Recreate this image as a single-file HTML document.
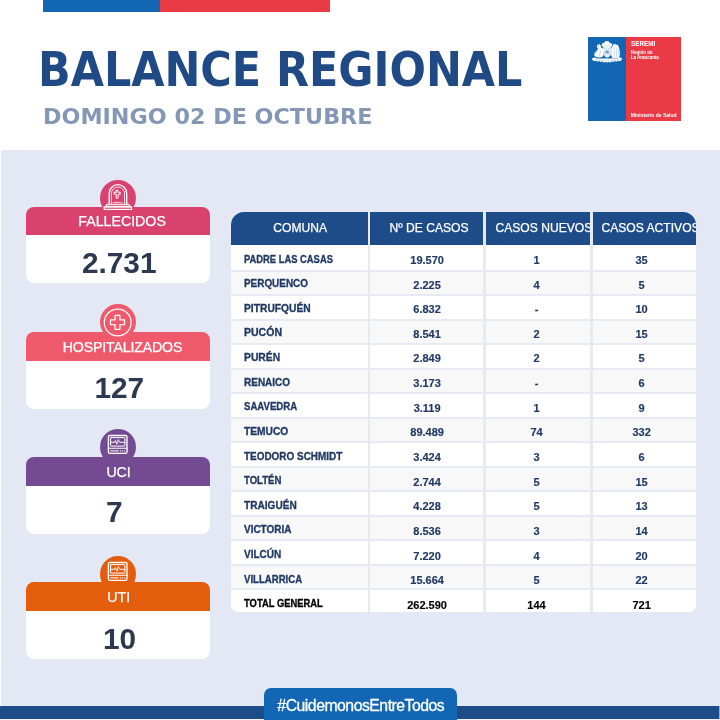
<!DOCTYPE html><html lang="es"><head><meta charset="utf-8"><title>Balance Regional</title><style>
*{margin:0;padding:0;box-sizing:border-box}
html,body{width:720px;height:720px;overflow:hidden;background:#fff}
body{position:relative;font-family:"Liberation Sans",sans-serif}
#wrap{position:absolute;left:0;top:0;width:720px;height:720px;will-change:transform}
.a{position:absolute}
.t{position:absolute;white-space:nowrap}
.panel{left:1px;top:149.5px;width:719px;height:571px;background:#e4e8f5}
.circ{width:36px;height:36px;border-radius:50%}
</style></head><body><div id="wrap">
<div class="a" style="left:42.7px;top:0;width:117.6px;height:11.7px;background:#1266b3"></div>
<div class="a" style="left:160.3px;top:0;width:169.7px;height:11.7px;background:#ea3a46"></div>
<div class="t" style="left:37.80px;top:44.63px;font-size:48.5px;line-height:48.5px;color:#1f4a86;font-weight:bold;transform:scaleX(0.983);transform-origin:0 0;font-family:'DejaVu Sans Condensed','Liberation Sans',sans-serif;">BALANCE REGIONAL</div>
<div class="t" style="left:43.20px;top:105.84px;font-size:22.0px;line-height:22.0px;color:#8497b6;font-weight:bold;transform:scaleX(1.012);transform-origin:0 0;font-family:'DejaVu Sans','Liberation Sans',sans-serif;">DOMINGO 02 DE OCTUBRE</div>
<div class="a" style="left:588px;top:37.1px;width:38.2px;height:83.6px;background:#1266b3"></div>
<div class="a" style="left:626px;top:37.1px;width:55px;height:83.6px;background:#ea3a46"></div>

<div class="t" style="left:630.70px;top:41.13px;font-size:6.5px;line-height:6.5px;color:#fff;font-weight:bold;transform:scaleX(0.97);transform-origin:0 0;">SEREMI</div>
<div class="t" style="left:630.70px;top:51.14px;font-size:4.5px;line-height:4.5px;color:#fff;font-weight:bold;transform:none;transform-origin:0 0;">Región de</div>
<div class="t" style="left:630.70px;top:55.94px;font-size:4.5px;line-height:4.5px;color:#fff;font-weight:bold;transform:none;transform-origin:0 0;">La Araucanía</div>
<div class="t" style="left:630.70px;top:113.09px;font-size:5.0px;line-height:5.0px;color:#fff;font-weight:bold;transform:none;transform-origin:0 0;">Ministerio de Salud</div>
<div class="a panel"></div>
<div class="a circ" style="left:99.8px;top:179.7px;background:#d9426f"></div>
<div class="a" style="left:26px;top:206.9px;width:183.5px;height:28.5px;border-radius:8px 8px 0 0;background:#d9426f"></div>
<div class="a" style="left:26px;top:235.4px;width:183.5px;height:48.1px;border-radius:0 0 8px 8px;background:#fff"></div>
<div class="t" style="left:122.10px;top:213.66px;font-size:14.2px;line-height:14.2px;color:#fff;font-weight:normal;transform:translateX(-50%);transform-origin:50% 0;-webkit-text-stroke:.25px #fff;">FALLECIDOS</div>
<div class="t" style="left:119.20px;top:247.78px;font-size:29.8px;line-height:29.8px;color:#2c3950;font-weight:bold;transform:translateX(-50%);transform-origin:50% 0;">2.731</div>
<div class="a circ" style="left:99.8px;top:304.2px;background:#ee5a6b"></div>
<div class="a" style="left:26px;top:332.0px;width:183.5px;height:28.5px;border-radius:8px 8px 0 0;background:#ee5a6b"></div>
<div class="a" style="left:26px;top:360.5px;width:183.5px;height:48.1px;border-radius:0 0 8px 8px;background:#fff"></div>
<div class="t" style="left:122.50px;top:339.66px;font-size:14.2px;line-height:14.2px;color:#fff;font-weight:normal;transform:translateX(-50%);transform-origin:50% 0;-webkit-text-stroke:.25px #fff;letter-spacing:-.17px;">HOSPITALIZADOS</div>
<div class="t" style="left:119.30px;top:372.53px;font-size:29.8px;line-height:29.8px;color:#2c3950;font-weight:bold;transform:translateX(-50%);transform-origin:50% 0;">127</div>
<div class="a circ" style="left:99.8px;top:428.8px;background:#744b93"></div>
<div class="a" style="left:26px;top:457.1px;width:183.5px;height:28.5px;border-radius:8px 8px 0 0;background:#744b93"></div>
<div class="a" style="left:26px;top:485.6px;width:183.5px;height:48.1px;border-radius:0 0 8px 8px;background:#fff"></div>
<div class="t" style="left:118.60px;top:464.71px;font-size:14.2px;line-height:14.2px;color:#fff;font-weight:normal;transform:translateX(-50%);transform-origin:50% 0;-webkit-text-stroke:.25px #fff;">UCI</div>
<div class="t" style="left:114.40px;top:496.88px;font-size:29.8px;line-height:29.8px;color:#2c3950;font-weight:bold;transform:translateX(-50%);transform-origin:50% 0;">7</div>
<div class="a circ" style="left:99.8px;top:555.8px;background:#e35d0c"></div>
<div class="a" style="left:26px;top:582.2px;width:183.5px;height:28.5px;border-radius:8px 8px 0 0;background:#e35d0c"></div>
<div class="a" style="left:26px;top:610.7px;width:183.5px;height:48.1px;border-radius:0 0 8px 8px;background:#fff"></div>
<div class="t" style="left:118.75px;top:590.06px;font-size:14.2px;line-height:14.2px;color:#fff;font-weight:normal;transform:translateX(-50%);transform-origin:50% 0;-webkit-text-stroke:.25px #fff;">UTI</div>
<div class="t" style="left:119.60px;top:623.98px;font-size:29.8px;line-height:29.8px;color:#2c3950;font-weight:bold;transform:translateX(-50%);transform-origin:50% 0;">10</div>
<div class="a" style="left:230.5px;top:211.6px;width:465.8px;height:400.2px;border-radius:13px 13px 7px 7px;overflow:hidden;background:#e7eaf6">
<div class="a" style="left:0.0px;top:0;width:137.1px;height:33.0px;background:#1e4c89"></div>
<div class="a" style="left:139.7px;top:0;width:112.8px;height:33.0px;background:#1e4c89"></div>
<div class="a" style="left:255.5px;top:0;width:104.0px;height:33.0px;background:#1e4c89"></div>
<div class="a" style="left:362.5px;top:0;width:103.3px;height:33.0px;background:#1e4c89"></div>
<div class="a" style="left:0.0px;top:33.70px;width:137.1px;height:24.70px;background:#ffffff"></div>
<div class="a" style="left:139.7px;top:33.70px;width:112.8px;height:24.70px;background:#ffffff"></div>
<div class="a" style="left:255.5px;top:33.70px;width:104.0px;height:24.70px;background:#ffffff"></div>
<div class="a" style="left:362.5px;top:33.70px;width:103.3px;height:24.70px;background:#ffffff"></div>
<div class="a" style="left:0.0px;top:60.20px;width:137.1px;height:22.70px;background:#f8f8f9"></div>
<div class="a" style="left:139.7px;top:60.20px;width:112.8px;height:22.70px;background:#f8f8f9"></div>
<div class="a" style="left:255.5px;top:60.20px;width:104.0px;height:22.70px;background:#f8f8f9"></div>
<div class="a" style="left:362.5px;top:60.20px;width:103.3px;height:22.70px;background:#f8f8f9"></div>
<div class="a" style="left:0.0px;top:84.70px;width:137.1px;height:22.70px;background:#ffffff"></div>
<div class="a" style="left:139.7px;top:84.70px;width:112.8px;height:22.70px;background:#ffffff"></div>
<div class="a" style="left:255.5px;top:84.70px;width:104.0px;height:22.70px;background:#ffffff"></div>
<div class="a" style="left:362.5px;top:84.70px;width:103.3px;height:22.70px;background:#ffffff"></div>
<div class="a" style="left:0.0px;top:109.20px;width:137.1px;height:22.70px;background:#f8f8f9"></div>
<div class="a" style="left:139.7px;top:109.20px;width:112.8px;height:22.70px;background:#f8f8f9"></div>
<div class="a" style="left:255.5px;top:109.20px;width:104.0px;height:22.70px;background:#f8f8f9"></div>
<div class="a" style="left:362.5px;top:109.20px;width:103.3px;height:22.70px;background:#f8f8f9"></div>
<div class="a" style="left:0.0px;top:133.70px;width:137.1px;height:22.70px;background:#ffffff"></div>
<div class="a" style="left:139.7px;top:133.70px;width:112.8px;height:22.70px;background:#ffffff"></div>
<div class="a" style="left:255.5px;top:133.70px;width:104.0px;height:22.70px;background:#ffffff"></div>
<div class="a" style="left:362.5px;top:133.70px;width:103.3px;height:22.70px;background:#ffffff"></div>
<div class="a" style="left:0.0px;top:158.20px;width:137.1px;height:22.70px;background:#f8f8f9"></div>
<div class="a" style="left:139.7px;top:158.20px;width:112.8px;height:22.70px;background:#f8f8f9"></div>
<div class="a" style="left:255.5px;top:158.20px;width:104.0px;height:22.70px;background:#f8f8f9"></div>
<div class="a" style="left:362.5px;top:158.20px;width:103.3px;height:22.70px;background:#f8f8f9"></div>
<div class="a" style="left:0.0px;top:182.70px;width:137.1px;height:22.70px;background:#ffffff"></div>
<div class="a" style="left:139.7px;top:182.70px;width:112.8px;height:22.70px;background:#ffffff"></div>
<div class="a" style="left:255.5px;top:182.70px;width:104.0px;height:22.70px;background:#ffffff"></div>
<div class="a" style="left:362.5px;top:182.70px;width:103.3px;height:22.70px;background:#ffffff"></div>
<div class="a" style="left:0.0px;top:207.20px;width:137.1px;height:22.70px;background:#f8f8f9"></div>
<div class="a" style="left:139.7px;top:207.20px;width:112.8px;height:22.70px;background:#f8f8f9"></div>
<div class="a" style="left:255.5px;top:207.20px;width:104.0px;height:22.70px;background:#f8f8f9"></div>
<div class="a" style="left:362.5px;top:207.20px;width:103.3px;height:22.70px;background:#f8f8f9"></div>
<div class="a" style="left:0.0px;top:231.70px;width:137.1px;height:22.70px;background:#ffffff"></div>
<div class="a" style="left:139.7px;top:231.70px;width:112.8px;height:22.70px;background:#ffffff"></div>
<div class="a" style="left:255.5px;top:231.70px;width:104.0px;height:22.70px;background:#ffffff"></div>
<div class="a" style="left:362.5px;top:231.70px;width:103.3px;height:22.70px;background:#ffffff"></div>
<div class="a" style="left:0.0px;top:256.20px;width:137.1px;height:22.70px;background:#f8f8f9"></div>
<div class="a" style="left:139.7px;top:256.20px;width:112.8px;height:22.70px;background:#f8f8f9"></div>
<div class="a" style="left:255.5px;top:256.20px;width:104.0px;height:22.70px;background:#f8f8f9"></div>
<div class="a" style="left:362.5px;top:256.20px;width:103.3px;height:22.70px;background:#f8f8f9"></div>
<div class="a" style="left:0.0px;top:280.70px;width:137.1px;height:22.70px;background:#ffffff"></div>
<div class="a" style="left:139.7px;top:280.70px;width:112.8px;height:22.70px;background:#ffffff"></div>
<div class="a" style="left:255.5px;top:280.70px;width:104.0px;height:22.70px;background:#ffffff"></div>
<div class="a" style="left:362.5px;top:280.70px;width:103.3px;height:22.70px;background:#ffffff"></div>
<div class="a" style="left:0.0px;top:305.20px;width:137.1px;height:22.70px;background:#f8f8f9"></div>
<div class="a" style="left:139.7px;top:305.20px;width:112.8px;height:22.70px;background:#f8f8f9"></div>
<div class="a" style="left:255.5px;top:305.20px;width:104.0px;height:22.70px;background:#f8f8f9"></div>
<div class="a" style="left:362.5px;top:305.20px;width:103.3px;height:22.70px;background:#f8f8f9"></div>
<div class="a" style="left:0.0px;top:329.70px;width:137.1px;height:22.70px;background:#ffffff"></div>
<div class="a" style="left:139.7px;top:329.70px;width:112.8px;height:22.70px;background:#ffffff"></div>
<div class="a" style="left:255.5px;top:329.70px;width:104.0px;height:22.70px;background:#ffffff"></div>
<div class="a" style="left:362.5px;top:329.70px;width:103.3px;height:22.70px;background:#ffffff"></div>
<div class="a" style="left:0.0px;top:354.20px;width:137.1px;height:22.70px;background:#f8f8f9"></div>
<div class="a" style="left:139.7px;top:354.20px;width:112.8px;height:22.70px;background:#f8f8f9"></div>
<div class="a" style="left:255.5px;top:354.20px;width:104.0px;height:22.70px;background:#f8f8f9"></div>
<div class="a" style="left:362.5px;top:354.20px;width:103.3px;height:22.70px;background:#f8f8f9"></div>
<div class="a" style="left:0.0px;top:378.70px;width:137.1px;height:21.50px;background:#ffffff"></div>
<div class="a" style="left:139.7px;top:378.70px;width:112.8px;height:21.50px;background:#ffffff"></div>
<div class="a" style="left:255.5px;top:378.70px;width:104.0px;height:21.50px;background:#ffffff"></div>
<div class="a" style="left:362.5px;top:378.70px;width:103.3px;height:21.50px;background:#ffffff"></div>
<div class="t" style="left:69.70px;top:10.32px;font-size:12.1px;line-height:12.1px;color:#fff;font-weight:normal;transform:translateX(-50%);transform-origin:50% 0;-webkit-text-stroke:.25px #fff;">COMUNA</div>
<div class="t" style="left:198.50px;top:10.32px;font-size:12.1px;line-height:12.1px;color:#fff;font-weight:normal;transform:translateX(-50%);transform-origin:50% 0;-webkit-text-stroke:.25px #fff;">Nº DE CASOS</div>
<div class="a" style="left:255.5px;top:0;width:103.6px;height:33px;overflow:hidden"><div class="t" style="left:9.50px;top:10.32px;font-size:12.1px;line-height:12.1px;color:#fff;font-weight:normal;transform:none;transform-origin:0 0;-webkit-text-stroke:.25px #fff;">CASOS NUEVOS</div></div>
<div class="a" style="left:362.5px;top:0;width:103.3px;height:33px;overflow:hidden"><div class="t" style="left:8.50px;top:10.32px;font-size:12.1px;line-height:12.1px;color:#fff;font-weight:normal;transform:none;transform-origin:0 0;-webkit-text-stroke:.25px #fff;">CASOS ACTIVOS</div></div>
<div class="t" style="left:13.00px;top:41.97px;font-size:10.6px;line-height:10.6px;color:#1f3864;font-weight:bold;transform:scaleX(0.885);transform-origin:0 0;-webkit-text-stroke:.3px #1f3864;">PADRE LAS CASAS</div>
<div class="t" style="left:196.60px;top:43.37px;font-size:11px;line-height:11px;color:#1f3864;font-weight:bold;transform:translateX(-50%);transform-origin:50% 0;-webkit-text-stroke:.15px #1f3864;">19.570</div>
<div class="t" style="left:306.00px;top:43.37px;font-size:11px;line-height:11px;color:#1f3864;font-weight:bold;transform:translateX(-50%);transform-origin:50% 0;-webkit-text-stroke:.15px #1f3864;">1</div>
<div class="t" style="left:411.10px;top:43.37px;font-size:11px;line-height:11px;color:#1f3864;font-weight:bold;transform:translateX(-50%);transform-origin:50% 0;-webkit-text-stroke:.15px #1f3864;">35</div>
<div class="t" style="left:13.00px;top:66.60px;font-size:10.6px;line-height:10.6px;color:#1f3864;font-weight:bold;transform:scaleX(0.936);transform-origin:0 0;-webkit-text-stroke:.3px #1f3864;">PERQUENCO</div>
<div class="t" style="left:196.60px;top:68.00px;font-size:11px;line-height:11px;color:#1f3864;font-weight:bold;transform:translateX(-50%);transform-origin:50% 0;-webkit-text-stroke:.15px #1f3864;">2.225</div>
<div class="t" style="left:306.00px;top:68.00px;font-size:11px;line-height:11px;color:#1f3864;font-weight:bold;transform:translateX(-50%);transform-origin:50% 0;-webkit-text-stroke:.15px #1f3864;">4</div>
<div class="t" style="left:411.10px;top:68.00px;font-size:11px;line-height:11px;color:#1f3864;font-weight:bold;transform:translateX(-50%);transform-origin:50% 0;-webkit-text-stroke:.15px #1f3864;">5</div>
<div class="t" style="left:13.00px;top:91.23px;font-size:10.6px;line-height:10.6px;color:#1f3864;font-weight:bold;transform:scaleX(0.969);transform-origin:0 0;-webkit-text-stroke:.3px #1f3864;">PITRUFQUÉN</div>
<div class="t" style="left:196.60px;top:92.63px;font-size:11px;line-height:11px;color:#1f3864;font-weight:bold;transform:translateX(-50%);transform-origin:50% 0;-webkit-text-stroke:.15px #1f3864;">6.832</div>
<div class="t" style="left:306.00px;top:92.63px;font-size:11px;line-height:11px;color:#1f3864;font-weight:bold;transform:translateX(-50%);transform-origin:50% 0;-webkit-text-stroke:.15px #1f3864;">-</div>
<div class="t" style="left:411.10px;top:92.63px;font-size:11px;line-height:11px;color:#1f3864;font-weight:bold;transform:translateX(-50%);transform-origin:50% 0;-webkit-text-stroke:.15px #1f3864;">10</div>
<div class="t" style="left:13.00px;top:115.86px;font-size:10.6px;line-height:10.6px;color:#1f3864;font-weight:bold;transform:scaleX(0.993);transform-origin:0 0;-webkit-text-stroke:.3px #1f3864;">PUCÓN</div>
<div class="t" style="left:196.60px;top:117.26px;font-size:11px;line-height:11px;color:#1f3864;font-weight:bold;transform:translateX(-50%);transform-origin:50% 0;-webkit-text-stroke:.15px #1f3864;">8.541</div>
<div class="t" style="left:306.00px;top:117.26px;font-size:11px;line-height:11px;color:#1f3864;font-weight:bold;transform:translateX(-50%);transform-origin:50% 0;-webkit-text-stroke:.15px #1f3864;">2</div>
<div class="t" style="left:411.10px;top:117.26px;font-size:11px;line-height:11px;color:#1f3864;font-weight:bold;transform:translateX(-50%);transform-origin:50% 0;-webkit-text-stroke:.15px #1f3864;">15</div>
<div class="t" style="left:13.00px;top:140.49px;font-size:10.6px;line-height:10.6px;color:#1f3864;font-weight:bold;transform:scaleX(0.974);transform-origin:0 0;-webkit-text-stroke:.3px #1f3864;">PURÉN</div>
<div class="t" style="left:196.60px;top:141.89px;font-size:11px;line-height:11px;color:#1f3864;font-weight:bold;transform:translateX(-50%);transform-origin:50% 0;-webkit-text-stroke:.15px #1f3864;">2.849</div>
<div class="t" style="left:306.00px;top:141.89px;font-size:11px;line-height:11px;color:#1f3864;font-weight:bold;transform:translateX(-50%);transform-origin:50% 0;-webkit-text-stroke:.15px #1f3864;">2</div>
<div class="t" style="left:411.10px;top:141.89px;font-size:11px;line-height:11px;color:#1f3864;font-weight:bold;transform:translateX(-50%);transform-origin:50% 0;-webkit-text-stroke:.15px #1f3864;">5</div>
<div class="t" style="left:13.00px;top:165.12px;font-size:10.6px;line-height:10.6px;color:#1f3864;font-weight:bold;transform:scaleX(0.944);transform-origin:0 0;-webkit-text-stroke:.3px #1f3864;">RENAICO</div>
<div class="t" style="left:196.60px;top:166.52px;font-size:11px;line-height:11px;color:#1f3864;font-weight:bold;transform:translateX(-50%);transform-origin:50% 0;-webkit-text-stroke:.15px #1f3864;">3.173</div>
<div class="t" style="left:306.00px;top:166.52px;font-size:11px;line-height:11px;color:#1f3864;font-weight:bold;transform:translateX(-50%);transform-origin:50% 0;-webkit-text-stroke:.15px #1f3864;">-</div>
<div class="t" style="left:411.10px;top:166.52px;font-size:11px;line-height:11px;color:#1f3864;font-weight:bold;transform:translateX(-50%);transform-origin:50% 0;-webkit-text-stroke:.15px #1f3864;">6</div>
<div class="t" style="left:13.60px;top:189.75px;font-size:10.6px;line-height:10.6px;color:#1f3864;font-weight:bold;transform:scaleX(0.905);transform-origin:0 0;-webkit-text-stroke:.3px #1f3864;">SAAVEDRA</div>
<div class="t" style="left:196.60px;top:191.15px;font-size:11px;line-height:11px;color:#1f3864;font-weight:bold;transform:translateX(-50%);transform-origin:50% 0;-webkit-text-stroke:.15px #1f3864;">3.119</div>
<div class="t" style="left:306.00px;top:191.15px;font-size:11px;line-height:11px;color:#1f3864;font-weight:bold;transform:translateX(-50%);transform-origin:50% 0;-webkit-text-stroke:.15px #1f3864;">1</div>
<div class="t" style="left:411.10px;top:191.15px;font-size:11px;line-height:11px;color:#1f3864;font-weight:bold;transform:translateX(-50%);transform-origin:50% 0;-webkit-text-stroke:.15px #1f3864;">9</div>
<div class="t" style="left:13.70px;top:214.38px;font-size:10.6px;line-height:10.6px;color:#1f3864;font-weight:bold;transform:scaleX(0.965);transform-origin:0 0;-webkit-text-stroke:.3px #1f3864;">TEMUCO</div>
<div class="t" style="left:196.60px;top:215.78px;font-size:11px;line-height:11px;color:#1f3864;font-weight:bold;transform:translateX(-50%);transform-origin:50% 0;-webkit-text-stroke:.15px #1f3864;">89.489</div>
<div class="t" style="left:306.00px;top:215.78px;font-size:11px;line-height:11px;color:#1f3864;font-weight:bold;transform:translateX(-50%);transform-origin:50% 0;-webkit-text-stroke:.15px #1f3864;">74</div>
<div class="t" style="left:411.10px;top:215.78px;font-size:11px;line-height:11px;color:#1f3864;font-weight:bold;transform:translateX(-50%);transform-origin:50% 0;-webkit-text-stroke:.15px #1f3864;">332</div>
<div class="t" style="left:13.70px;top:239.01px;font-size:10.6px;line-height:10.6px;color:#1f3864;font-weight:bold;transform:scaleX(0.938);transform-origin:0 0;-webkit-text-stroke:.3px #1f3864;">TEODORO SCHMIDT</div>
<div class="t" style="left:196.60px;top:240.41px;font-size:11px;line-height:11px;color:#1f3864;font-weight:bold;transform:translateX(-50%);transform-origin:50% 0;-webkit-text-stroke:.15px #1f3864;">3.424</div>
<div class="t" style="left:306.00px;top:240.41px;font-size:11px;line-height:11px;color:#1f3864;font-weight:bold;transform:translateX(-50%);transform-origin:50% 0;-webkit-text-stroke:.15px #1f3864;">3</div>
<div class="t" style="left:411.10px;top:240.41px;font-size:11px;line-height:11px;color:#1f3864;font-weight:bold;transform:translateX(-50%);transform-origin:50% 0;-webkit-text-stroke:.15px #1f3864;">6</div>
<div class="t" style="left:13.70px;top:263.64px;font-size:10.6px;line-height:10.6px;color:#1f3864;font-weight:bold;transform:scaleX(0.902);transform-origin:0 0;-webkit-text-stroke:.3px #1f3864;">TOLTÉN</div>
<div class="t" style="left:196.60px;top:265.04px;font-size:11px;line-height:11px;color:#1f3864;font-weight:bold;transform:translateX(-50%);transform-origin:50% 0;-webkit-text-stroke:.15px #1f3864;">2.744</div>
<div class="t" style="left:306.00px;top:265.04px;font-size:11px;line-height:11px;color:#1f3864;font-weight:bold;transform:translateX(-50%);transform-origin:50% 0;-webkit-text-stroke:.15px #1f3864;">5</div>
<div class="t" style="left:411.10px;top:265.04px;font-size:11px;line-height:11px;color:#1f3864;font-weight:bold;transform:translateX(-50%);transform-origin:50% 0;-webkit-text-stroke:.15px #1f3864;">15</div>
<div class="t" style="left:13.70px;top:288.27px;font-size:10.6px;line-height:10.6px;color:#1f3864;font-weight:bold;transform:scaleX(0.953);transform-origin:0 0;-webkit-text-stroke:.3px #1f3864;">TRAIGUÉN</div>
<div class="t" style="left:196.60px;top:289.67px;font-size:11px;line-height:11px;color:#1f3864;font-weight:bold;transform:translateX(-50%);transform-origin:50% 0;-webkit-text-stroke:.15px #1f3864;">4.228</div>
<div class="t" style="left:306.00px;top:289.67px;font-size:11px;line-height:11px;color:#1f3864;font-weight:bold;transform:translateX(-50%);transform-origin:50% 0;-webkit-text-stroke:.15px #1f3864;">5</div>
<div class="t" style="left:411.10px;top:289.67px;font-size:11px;line-height:11px;color:#1f3864;font-weight:bold;transform:translateX(-50%);transform-origin:50% 0;-webkit-text-stroke:.15px #1f3864;">13</div>
<div class="t" style="left:13.70px;top:312.90px;font-size:10.6px;line-height:10.6px;color:#1f3864;font-weight:bold;transform:scaleX(0.941);transform-origin:0 0;-webkit-text-stroke:.3px #1f3864;">VICTORIA</div>
<div class="t" style="left:196.60px;top:314.30px;font-size:11px;line-height:11px;color:#1f3864;font-weight:bold;transform:translateX(-50%);transform-origin:50% 0;-webkit-text-stroke:.15px #1f3864;">8.536</div>
<div class="t" style="left:306.00px;top:314.30px;font-size:11px;line-height:11px;color:#1f3864;font-weight:bold;transform:translateX(-50%);transform-origin:50% 0;-webkit-text-stroke:.15px #1f3864;">3</div>
<div class="t" style="left:411.10px;top:314.30px;font-size:11px;line-height:11px;color:#1f3864;font-weight:bold;transform:translateX(-50%);transform-origin:50% 0;-webkit-text-stroke:.15px #1f3864;">14</div>
<div class="t" style="left:13.70px;top:337.53px;font-size:10.6px;line-height:10.6px;color:#1f3864;font-weight:bold;transform:scaleX(0.947);transform-origin:0 0;-webkit-text-stroke:.3px #1f3864;">VILCÚN</div>
<div class="t" style="left:196.60px;top:338.93px;font-size:11px;line-height:11px;color:#1f3864;font-weight:bold;transform:translateX(-50%);transform-origin:50% 0;-webkit-text-stroke:.15px #1f3864;">7.220</div>
<div class="t" style="left:306.00px;top:338.93px;font-size:11px;line-height:11px;color:#1f3864;font-weight:bold;transform:translateX(-50%);transform-origin:50% 0;-webkit-text-stroke:.15px #1f3864;">4</div>
<div class="t" style="left:411.10px;top:338.93px;font-size:11px;line-height:11px;color:#1f3864;font-weight:bold;transform:translateX(-50%);transform-origin:50% 0;-webkit-text-stroke:.15px #1f3864;">20</div>
<div class="t" style="left:13.70px;top:362.16px;font-size:10.6px;line-height:10.6px;color:#1f3864;font-weight:bold;transform:scaleX(0.906);transform-origin:0 0;-webkit-text-stroke:.3px #1f3864;">VILLARRICA</div>
<div class="t" style="left:196.60px;top:363.56px;font-size:11px;line-height:11px;color:#1f3864;font-weight:bold;transform:translateX(-50%);transform-origin:50% 0;-webkit-text-stroke:.15px #1f3864;">15.664</div>
<div class="t" style="left:306.00px;top:363.56px;font-size:11px;line-height:11px;color:#1f3864;font-weight:bold;transform:translateX(-50%);transform-origin:50% 0;-webkit-text-stroke:.15px #1f3864;">5</div>
<div class="t" style="left:411.10px;top:363.56px;font-size:11px;line-height:11px;color:#1f3864;font-weight:bold;transform:translateX(-50%);transform-origin:50% 0;-webkit-text-stroke:.15px #1f3864;">22</div>
<div class="t" style="left:13.70px;top:386.79px;font-size:10.6px;line-height:10.6px;color:#000;font-weight:bold;transform:scaleX(0.887);transform-origin:0 0;-webkit-text-stroke:.3px #000;">TOTAL GENERAL</div>
<div class="t" style="left:196.60px;top:388.19px;font-size:11px;line-height:11px;color:#000;font-weight:bold;transform:translateX(-50%);transform-origin:50% 0;-webkit-text-stroke:.15px #000;">262.590</div>
<div class="t" style="left:306.00px;top:388.19px;font-size:11px;line-height:11px;color:#000;font-weight:bold;transform:translateX(-50%);transform-origin:50% 0;-webkit-text-stroke:.15px #000;">144</div>
<div class="t" style="left:411.10px;top:388.19px;font-size:11px;line-height:11px;color:#000;font-weight:bold;transform:translateX(-50%);transform-origin:50% 0;-webkit-text-stroke:.15px #000;">721</div>
</div>
<div class="a" style="left:0;top:705.7px;width:720px;height:13.2px;background:#8fb0e2"></div>
<div class="a" style="left:0;top:718.9px;width:720px;height:2px;background:#eef1fa"></div>
<div class="a" style="left:0;top:705.7px;width:718.8px;height:13.2px;background:#1e4c89"></div>
<div class="a" style="left:264.4px;top:687.8px;width:192.8px;height:40px;border-radius:7px;background:#1266b3"></div>
<div class="t" style="left:360.80px;top:698.06px;font-size:15.8px;line-height:15.8px;color:#fff;font-weight:normal;transform:translateX(-50%);transform-origin:50% 0;letter-spacing:-.5px;-webkit-text-stroke:.3px #fff;">#CuidemonosEntreTodos</div>
<svg class="a" style="left:0;top:0" width="720" height="720" viewBox="0 0 720 720">
<g fill="#fff" stroke="none"><ellipse cx="606.9" cy="43.4" rx="2.7" ry="2.4"/><circle cx="603.7" cy="45" r="2.1"/><circle cx="610.1" cy="45" r="2.1"/><path d="M604.4,45 h5 v2.2 h-5z"/><path d="M603,46.700 h8.300 v6.300 c0,2.300 -1.800,3.900 -4.150,4.700 c-2.350,-.8 -4.150,-2.400 -4.150,-4.700 z" fill-opacity=".88"/><path d="M597.4,44.500 l1.500,.2 .6,-1 .6,1.200 .9,.5 -.2,1.700 1,1.200 1.200,1.500 .1,6.400 -2.800,1.200 -3.800,-.1 -2.200,-1.600 .3,-2.600 2.100,-2.300 1.300,-2.400 -1.200,-1.600 z"/><path d="M611.600,50.600 l.5,-3.700 1,-2.500 1.900,-.6 1.300,1.300 1.200,-.5 1.300,2.500 .9,3.500 .1,4.600 -1,3.100 -6.900,-.1 z"/><path d="M601.4,48.800 l1.800,-1.300 v8.400 l-1.800,1 z M611.1,47.500 l1.500,1.300 v7.800 l-1.500,-.8 z" fill-opacity=".8"/><path d="M592.400,58.600 c.5,-1.200 1.700,-1.500 2.700,-.9 l2,.9 h20.100 l2,-.9 c1,-.6 2.200,-.3 2.700,.9 c.3,1 -.3,1.800 -1.300,2.100 l-1.700,.5 -1.200,-.5 -1.300,1 -1.500,-.6 -1.400,1 -1.600,-.5 -1.500,.8 -1.700,-.5 -1.700,.7 -1.700,-.7 -1.700,.5 -1.500,-.8 -1.600,.5 -1.400,-1 -1.500,.6 -1.300,-1 -1.200,.5 -1.700,-.5 c-1,-.3 -1.600,-1.100 -1.300,-2.100 z"/></g><g fill="none" stroke="#1266b3" stroke-linecap="round"><path d="M603.6,52.200 h7.100" stroke-width=".5" opacity=".5"/><path d="M604,47.600 l6.300,8 M610.300,47.600 l-6.300,8" stroke-width=".45" opacity=".45"/><path d="M598.600,49.800 l-2.600,3.800 M600.600,50.500 l-1.200,5.500 M597.800,46.200 l.9,.6" stroke-width=".5" opacity=".55"/><path d="M614.200,47.500 v9.500 M616.600,48 v9 M618.400,50.500 v6" stroke-width=".45" opacity=".5"/><path d="M595.500,59.600 c3.700,1.100 7.600,1.400 11.600,1.400 c4,0 7.900,-.3 11.600,-1.400" stroke-width=".45" opacity=".55"/><path d="M604.600,46 h4.600 M602.300,57.300 h1.300 M610.600,57.300 h1.300" stroke-width=".4" opacity=".5"/></g><path d="M607.150,49.900 l.6,1.250 1.350,.2 -1,.95 .25,1.350 -1.200,-.65 -1.200,.65 .25,-1.350 -1,-.95 1.350,-.2 z" fill="#1266b3" opacity=".5"/>
<g transform="translate(-0.10,0.00)" fill="none" stroke="#fff" stroke-linejoin="round" stroke-linecap="round"><path d="M109.3,204 V193.4 a8.75,8.75 0 0 1 17.5,0 V204" stroke-width="1.3"/><path d="M111.5,203.6 V193.6 a6.55,6.55 0 0 1 13.1,0 V203.6" stroke-width=".85"/><path d="M116.3,190.3 h1.9 v2 h2.1 v1.9 h-2.1 v4 h-1.9 v-4 h-2.1 v-1.9 h2.1 z" stroke-width="1"/><path d="M113.4,202.4 h6.2 M120.8,202.4 h1.2" stroke-width=".9" opacity=".8"/><path d="M107.2,204.3 h21.6 l1.6,2.3 h-24.8 z" stroke-width="1.1" fill="#fff" fill-opacity=".25"/><path d="M104.3,206.8 h27.4 v2.7 h-27.4 z" stroke-width="1.2" fill="#fff" fill-opacity=".2"/></g>
<g transform="translate(0.00,0.00)" fill="none" stroke="#fff" stroke-linejoin="round"><circle cx="117.7" cy="322.5" r="13.4" stroke-width="1.2"/><path d="M115.1,315.3 h4.8 v4.6 h4.6 v4.8 h-4.6 v4.6 h-4.8 v-4.6 h-4.6 v-4.8 h4.6 z" stroke-width="1.25"/></g>
<g transform="translate(0.00,0.00)" fill="none" stroke="#fff" stroke-linejoin="round" stroke-linecap="round"><rect x="108.4" y="435.5" width="18.6" height="17.9" rx="1.6" stroke-width="1.35"/><path d="M108.4,448.3 h18.6" stroke-width="1.05"/><rect x="110.6" y="437.6" width="14.3" height="8.5" rx=".5" stroke-width="1"/><path d="M110.8,442.3 h3.6 l1,-1.700 1.400,3.600 1.500,-4.600 1.300,2.700 h5.100" stroke-width=".95"/><path d="M110.8,450.9 h7.6" stroke-width="1"/><path d="M120.6,450.9 h.1 M122.6,450.9 h.1 M124.6,450.9 h.1" stroke-width="1.1"/></g>
<g transform="translate(0.00,127.00)" fill="none" stroke="#fff" stroke-linejoin="round" stroke-linecap="round"><rect x="108.4" y="435.5" width="18.6" height="17.9" rx="1.6" stroke-width="1.35"/><path d="M108.4,448.3 h18.6" stroke-width="1.05"/><rect x="110.6" y="437.6" width="14.3" height="8.5" rx=".5" stroke-width="1"/><path d="M110.8,442.3 h3.6 l1,-1.700 1.400,3.600 1.500,-4.600 1.300,2.700 h5.100" stroke-width=".95"/><path d="M110.8,450.9 h7.6" stroke-width="1"/><path d="M120.6,450.9 h.1 M122.6,450.9 h.1 M124.6,450.9 h.1" stroke-width="1.1"/></g>
</svg>
</div></body></html>
